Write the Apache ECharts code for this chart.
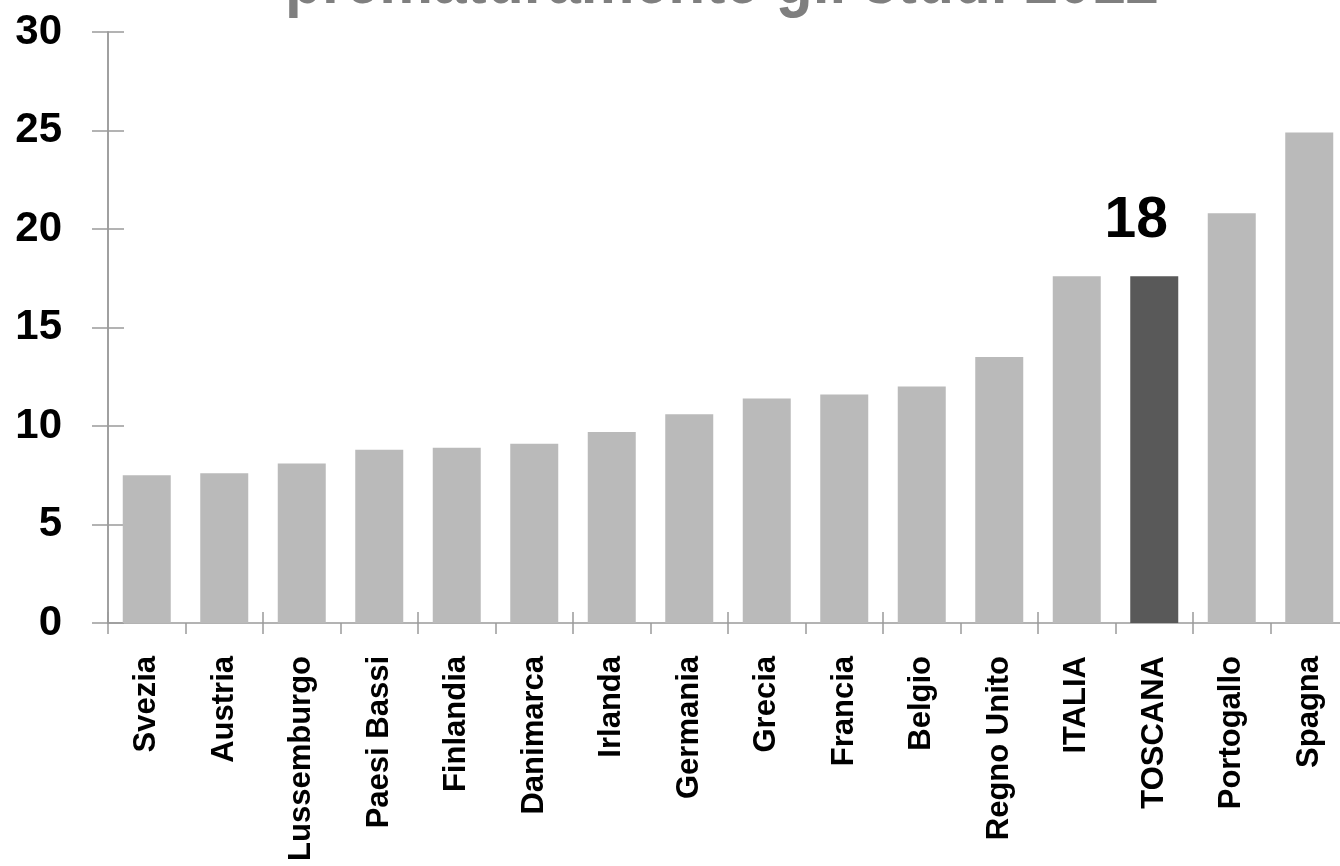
<!DOCTYPE html>
<html>
<head>
<meta charset="utf-8">
<script src="https://cdn.jsdelivr.net/npm/echarts@6/dist/echarts.min.js"></script>
<style>
html,body{margin:0;padding:0;background:#fff;}
#c{width:1340px;height:866px;}
</style>
</head>
<body>
<div id="c"></div>
<script>
const titleText = 'prematuramente gli studi 2012';
const categories = ['Svezia','Austria','Lussemburgo','Paesi Bassi','Finlandia','Danimarca','Irlanda','Germania','Grecia','Francia','Belgio','Regno Unito','ITALIA','TOSCANA','Portogallo','Spagna'];
const values = [7.5,7.6,8.1,8.8,8.9,9.1,9.7,10.6,11.4,11.6,12.0,13.5,17.6,17.6,20.8,24.9];
const highlight = 'TOSCANA';
const yTicks = [0,5,10,15,20,25,30];

const FONT = "'Liberation Sans Narrow','Arial Narrow','Liberation Sans',Arial,sans-serif";
const axisGrey = '#9a9a9a';

const chart = echarts.init(document.getElementById('c'), null, {renderer:'canvas'});

const seriesData = categories.map((c,i)=>{
  if(c===highlight){
    return {value: values[i], itemStyle:{color:'#595959'},
      label:{show:true, position:'top', distance:26, offset:[-18,0], formatter:(p)=>String(Math.round(p.value)),
        fontFamily:FONT, fontWeight:'bold', fontSize:57, color:'#000'}};
  }
  return {value: values[i]};
});

const yBase = {
  type:'value', min:yTicks[0], max:yTicks[yTicks.length-1], interval:5,
  splitLine:{show:false},
  axisLine:{show:true, lineStyle:{color:axisGrey, width:1.5}},
};

chart.setOption({
  animation:false,
  grid:{left:108, top:32, width:1240, height:591, containLabel:false, outerBoundsMode:'none'},
  graphic:[{
    type:'text', x:722, y:-17, scaleX:0.84,
    style:{text:titleText, x:0, y:0, align:'center', verticalAlign:'middle',
      font:"bold 72px 'Liberation Sans',Arial,sans-serif", fill:'#7f7f7f'}
  }],
  xAxis:[{
    type:'category', data:categories,
    axisLine:{show:true, lineStyle:{color:axisGrey, width:1.5}},
    axisTick:{show:true, length:11, lineStyle:{color:axisGrey, width:1.5}},
    axisLabel:{rotate:90, margin:33, interval:0, fontFamily:FONT, fontWeight:'bold', fontSize:31, color:'#000'}
  },{
    type:'category', data:categories, position:'bottom',
    axisLine:{show:false},
    axisTick:{show:true, inside:true, length:11, lineStyle:{color:axisGrey, width:1.5}},
    axisLabel:{show:false}
  }],
  yAxis:[Object.assign({}, yBase, {
    axisTick:{show:true, length:16, lineStyle:{color:axisGrey, width:1.5}},
    axisLabel:{margin:46, fontFamily:FONT, fontWeight:'bold', fontSize:42, color:'#000'}
  }), Object.assign({}, yBase, {
    position:'left',
    axisTick:{show:true, inside:true, length:16, lineStyle:{color:axisGrey, width:1.5}},
    axisLabel:{show:false}
  })],
  series:[{
    type:'bar', xAxisIndex:0, yAxisIndex:0, data:seriesData, barWidth:48,
    itemStyle:{color:'#bababa'}
  }]
});
</script>
</body>
</html>
